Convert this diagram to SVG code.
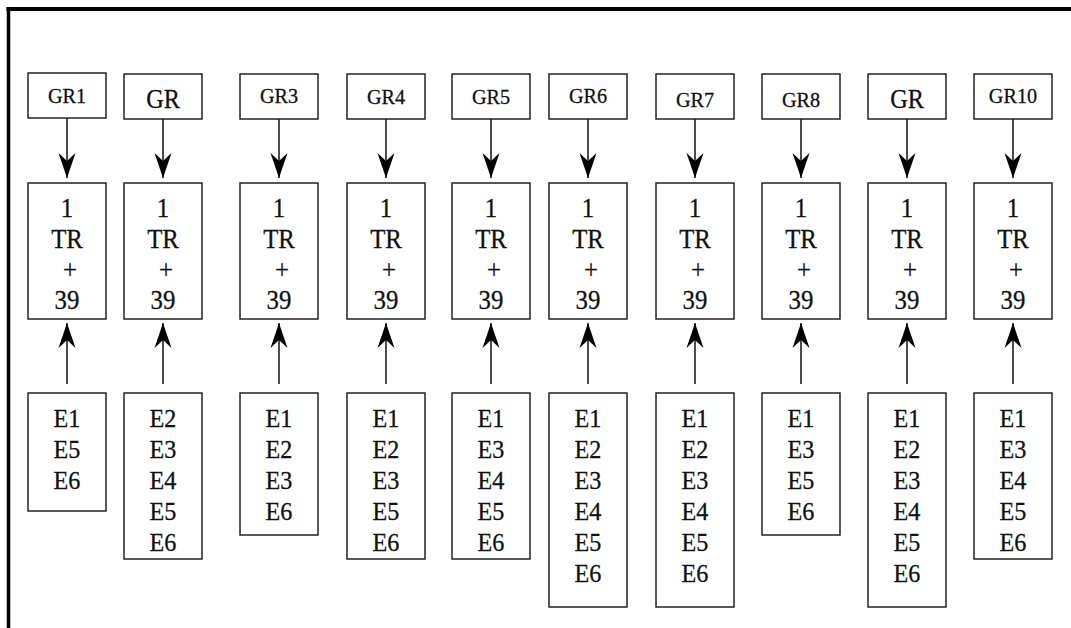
<svg xmlns="http://www.w3.org/2000/svg" width="1071" height="628" viewBox="0 0 1071 628">
  <style>
    .box { fill: #ffffff; stroke: #222222; stroke-width: 1.5; }
    .edge { stroke: #000000; stroke-width: 1.4; fill: none; }
    .frame { stroke: #000000; fill: none; }
    text { font-family: "Liberation Serif", "Times New Roman", serif; fill: #111111; stroke: #111111; stroke-width: 0.3;
           text-anchor: middle; transform-box: fill-box; transform-origin: center; }
    .gr { font-size: 22px; transform: scaleX(0.92); }
    .grb { font-size: 27px; transform: scaleX(0.9); }
    .mid { font-size: 27px; transform: scaleX(0.92); }
    .lst { font-size: 26px; transform: scaleX(0.93); }
  </style>
  <defs>
    <marker id="head" markerUnits="userSpaceOnUse" markerWidth="30" markerHeight="20" viewBox="-26 -10 28 20" refX="0" refY="0" orient="auto">
      <path d="M0,0 L-25,-8.5 L-17,0 L-25,8.5 Z" fill="#000000"/>
    </marker>
  </defs>

  <rect width="1071" height="628" fill="#ffffff"/>

  <!-- outer frame: top and left rules -->
  <line class="frame" x1="6.5" y1="9" x2="1071" y2="9" stroke-width="4"/>
  <line class="frame" x1="8.5" y1="7" x2="8.5" y2="628" stroke-width="3.5"/>

  <!-- connectors -->
  <g id="connectors">
    <line class="edge" x1="67" y1="118" x2="67" y2="178" marker-end="url(#head)"/>
    <line class="edge" x1="163" y1="119" x2="163" y2="178" marker-end="url(#head)"/>
    <line class="edge" x1="279" y1="119" x2="279" y2="178" marker-end="url(#head)"/>
    <line class="edge" x1="386" y1="119" x2="386" y2="178" marker-end="url(#head)"/>
    <line class="edge" x1="491" y1="119" x2="491" y2="178" marker-end="url(#head)"/>
    <line class="edge" x1="588" y1="119" x2="588" y2="178" marker-end="url(#head)"/>
    <line class="edge" x1="695" y1="119" x2="695" y2="178" marker-end="url(#head)"/>
    <line class="edge" x1="801" y1="119" x2="801" y2="178" marker-end="url(#head)"/>
    <line class="edge" x1="907" y1="119" x2="907" y2="178" marker-end="url(#head)"/>
    <line class="edge" x1="1013" y1="119" x2="1013" y2="178" marker-end="url(#head)"/>

    <line class="edge" x1="67" y1="384" x2="67" y2="323" marker-end="url(#head)"/>
    <line class="edge" x1="163" y1="384" x2="163" y2="323" marker-end="url(#head)"/>
    <line class="edge" x1="279" y1="384" x2="279" y2="323" marker-end="url(#head)"/>
    <line class="edge" x1="386" y1="384" x2="386" y2="323" marker-end="url(#head)"/>
    <line class="edge" x1="491" y1="384" x2="491" y2="323" marker-end="url(#head)"/>
    <line class="edge" x1="588" y1="384" x2="588" y2="323" marker-end="url(#head)"/>
    <line class="edge" x1="695" y1="384" x2="695" y2="323" marker-end="url(#head)"/>
    <line class="edge" x1="801" y1="384" x2="801" y2="323" marker-end="url(#head)"/>
    <line class="edge" x1="907" y1="384" x2="907" y2="323" marker-end="url(#head)"/>
    <line class="edge" x1="1013" y1="384" x2="1013" y2="323" marker-end="url(#head)"/>
  </g>

  <!-- top row: group labels -->
  <g id="gr1"><rect class="box" x="28" y="73" width="78" height="45"/><text class="gr" x="67" y="103">GR1</text></g>
  <g id="gr2"><rect class="box" x="124" y="74" width="78" height="45"/><text class="grb" x="163" y="108">GR</text></g>
  <g id="gr3"><rect class="box" x="240" y="74" width="78" height="45"/><text class="gr" x="279" y="103">GR3</text></g>
  <g id="gr4"><rect class="box" x="347" y="74" width="78" height="45"/><text class="gr" x="386" y="104">GR4</text></g>
  <g id="gr5"><rect class="box" x="452" y="74" width="78" height="45"/><text class="gr" x="491" y="104">GR5</text></g>
  <g id="gr6"><rect class="box" x="549" y="74" width="78" height="45"/><text class="gr" x="588" y="103">GR6</text></g>
  <g id="gr7"><rect class="box" x="656" y="74" width="78" height="45"/><text class="gr" x="695" y="107">GR7</text></g>
  <g id="gr8"><rect class="box" x="762" y="74" width="78" height="45"/><text class="gr" x="801" y="107">GR8</text></g>
  <g id="gr9"><rect class="box" x="868" y="74" width="78" height="45"/><text class="grb" x="907" y="108">GR</text></g>
  <g id="gr10"><rect class="box" x="974" y="74" width="78" height="45"/><text class="gr" x="1013" y="103">GR10</text></g>

  <!-- middle row: 1 TR + 39 -->
  <g id="tr1"><rect class="box" x="28" y="183" width="78" height="136"/>
    <text class="mid" x="67" y="217">1</text><text class="mid" x="67" y="248">TR</text><text class="mid" x="70" y="279">+</text><text class="mid" x="67" y="309">39</text></g>
  <g id="tr2"><rect class="box" x="124" y="183" width="78" height="136"/>
    <text class="mid" x="163" y="217">1</text><text class="mid" x="163" y="248">TR</text><text class="mid" x="166" y="279">+</text><text class="mid" x="163" y="309">39</text></g>
  <g id="tr3"><rect class="box" x="240" y="183" width="78" height="136"/>
    <text class="mid" x="279" y="217">1</text><text class="mid" x="279" y="248">TR</text><text class="mid" x="282" y="279">+</text><text class="mid" x="279" y="309">39</text></g>
  <g id="tr4"><rect class="box" x="347" y="183" width="78" height="136"/>
    <text class="mid" x="386" y="217">1</text><text class="mid" x="386" y="248">TR</text><text class="mid" x="389" y="279">+</text><text class="mid" x="386" y="309">39</text></g>
  <g id="tr5"><rect class="box" x="452" y="183" width="78" height="136"/>
    <text class="mid" x="491" y="217">1</text><text class="mid" x="491" y="248">TR</text><text class="mid" x="494" y="279">+</text><text class="mid" x="491" y="309">39</text></g>
  <g id="tr6"><rect class="box" x="549" y="183" width="78" height="136"/>
    <text class="mid" x="588" y="217">1</text><text class="mid" x="588" y="248">TR</text><text class="mid" x="591" y="279">+</text><text class="mid" x="588" y="309">39</text></g>
  <g id="tr7"><rect class="box" x="656" y="183" width="78" height="136"/>
    <text class="mid" x="695" y="217">1</text><text class="mid" x="695" y="248">TR</text><text class="mid" x="698" y="279">+</text><text class="mid" x="695" y="309">39</text></g>
  <g id="tr8"><rect class="box" x="762" y="183" width="78" height="136"/>
    <text class="mid" x="801" y="217">1</text><text class="mid" x="801" y="248">TR</text><text class="mid" x="804" y="279">+</text><text class="mid" x="801" y="309">39</text></g>
  <g id="tr9"><rect class="box" x="868" y="183" width="78" height="136"/>
    <text class="mid" x="907" y="217">1</text><text class="mid" x="907" y="248">TR</text><text class="mid" x="910" y="279">+</text><text class="mid" x="907" y="309">39</text></g>
  <g id="tr10"><rect class="box" x="974" y="183" width="78" height="136"/>
    <text class="mid" x="1013" y="217">1</text><text class="mid" x="1013" y="248">TR</text><text class="mid" x="1016" y="279">+</text><text class="mid" x="1013" y="309">39</text></g>

  <!-- bottom row: element lists -->
  <g id="el1"><rect class="box" x="28" y="393" width="78" height="118"/>
    <text class="lst" x="67" y="427">E1</text><text class="lst" x="67" y="458">E5</text><text class="lst" x="67" y="489">E6</text></g>
  <g id="el2"><rect class="box" x="124" y="393" width="78" height="166"/>
    <text class="lst" x="163" y="427">E2</text><text class="lst" x="163" y="458">E3</text><text class="lst" x="163" y="489">E4</text><text class="lst" x="163" y="520">E5</text><text class="lst" x="163" y="551">E6</text></g>
  <g id="el3"><rect class="box" x="240" y="393" width="78" height="142"/>
    <text class="lst" x="279" y="427">E1</text><text class="lst" x="279" y="458">E2</text><text class="lst" x="279" y="489">E3</text><text class="lst" x="279" y="520">E6</text></g>
  <g id="el4"><rect class="box" x="347" y="393" width="78" height="166"/>
    <text class="lst" x="386" y="427">E1</text><text class="lst" x="386" y="458">E2</text><text class="lst" x="386" y="489">E3</text><text class="lst" x="386" y="520">E5</text><text class="lst" x="386" y="551">E6</text></g>
  <g id="el5"><rect class="box" x="452" y="393" width="78" height="166"/>
    <text class="lst" x="491" y="427">E1</text><text class="lst" x="491" y="458">E3</text><text class="lst" x="491" y="489">E4</text><text class="lst" x="491" y="520">E5</text><text class="lst" x="491" y="551">E6</text></g>
  <g id="el6"><rect class="box" x="549" y="393" width="78" height="214"/>
    <text class="lst" x="588" y="427">E1</text><text class="lst" x="588" y="458">E2</text><text class="lst" x="588" y="489">E3</text><text class="lst" x="588" y="520">E4</text><text class="lst" x="588" y="551">E5</text><text class="lst" x="588" y="582">E6</text></g>
  <g id="el7"><rect class="box" x="656" y="393" width="78" height="214"/>
    <text class="lst" x="695" y="427">E1</text><text class="lst" x="695" y="458">E2</text><text class="lst" x="695" y="489">E3</text><text class="lst" x="695" y="520">E4</text><text class="lst" x="695" y="551">E5</text><text class="lst" x="695" y="582">E6</text></g>
  <g id="el8"><rect class="box" x="762" y="393" width="78" height="142"/>
    <text class="lst" x="801" y="427">E1</text><text class="lst" x="801" y="458">E3</text><text class="lst" x="801" y="489">E5</text><text class="lst" x="801" y="520">E6</text></g>
  <g id="el9"><rect class="box" x="868" y="393" width="78" height="214"/>
    <text class="lst" x="907" y="427">E1</text><text class="lst" x="907" y="458">E2</text><text class="lst" x="907" y="489">E3</text><text class="lst" x="907" y="520">E4</text><text class="lst" x="907" y="551">E5</text><text class="lst" x="907" y="582">E6</text></g>
  <g id="el10"><rect class="box" x="974" y="393" width="78" height="166"/>
    <text class="lst" x="1013" y="427">E1</text><text class="lst" x="1013" y="458">E3</text><text class="lst" x="1013" y="489">E4</text><text class="lst" x="1013" y="520">E5</text><text class="lst" x="1013" y="551">E6</text></g>
</svg>
